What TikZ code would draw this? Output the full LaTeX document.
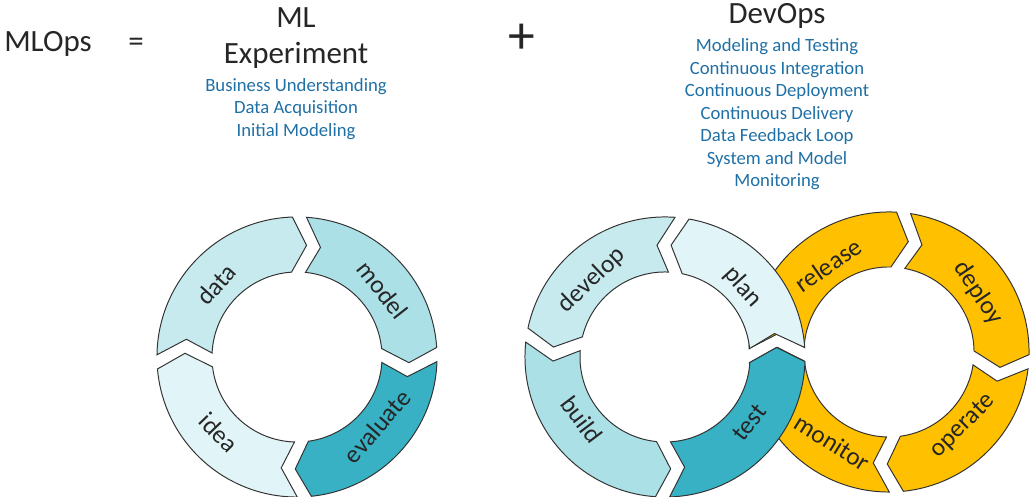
\documentclass[tikz,border=0pt]{standalone}
\usepackage{fontspec}
\setmainfont{Carlito}
\usetikzlibrary{positioning}

\definecolor{dataC}{HTML}{C7EAEF}
\definecolor{modelC}{HTML}{ACE0E7}
\definecolor{evalC}{HTML}{37B1C3}
\definecolor{ideaC}{HTML}{E1F4F7}
\definecolor{opsC}{HTML}{FFC000}
\definecolor{stepblue}{HTML}{1F70A6}
\definecolor{inkgray}{HTML}{262626}

% radii of the rings
\newcommand{\rout}{3.5cm}
\newcommand{\rmid}{2.8cm}
\newcommand{\rin}{2.125cm}
% half gaps (degrees) at outer, middle and inner radius, and tip length
\newcommand{\gapout}{2.9}
\newcommand{\gapmid}{3.6}
\newcommand{\gapin}{4.7}
\newcommand{\tiplen}{7.5}

% one ring piece: start angle, end angle, direction (1 ccw, -1 cw), fill
\newcommand{\ringpart}[4]{%
  \draw[ringline, fill=#4]
    ({#1+(#3)*\gapout}:\rout) arc[start angle={#1+(#3)*\gapout}, end angle={#2-(#3)*\gapout}, radius=\rout]
    -- ({#2-(#3)*\gapmid+(#3)*\tiplen}:\rmid)
    -- ({#2-(#3)*\gapin}:\rin) arc[start angle={#2-(#3)*\gapin}, end angle={#1+(#3)*\gapin}, radius=\rin]
    -- ({#1+(#3)*\gapmid+(#3)*\tiplen}:\rmid) -- cycle;}

\tikzset{
  ringline/.style={draw=black!80, line width=0.7pt},
  lbl/.style={font=\fontsize{18pt}{20pt}\selectfont, text=inkgray},
  head/.style={font=\fontsize{22pt}{25.6pt}\selectfont, text=inkgray, inner sep=0pt, align=center},
  steps/.style={font=\fontsize{13.3pt}{16pt}\selectfont, text=stepblue, inner sep=0pt, align=center}
}

\begin{document}
\begin{tikzpicture}[x=0.025cm, y=0.025cm]
  \useasboundingbox (0,0) rectangle (1030,497);

  % titles
  \node[head, anchor=base] (mlops) at (48,445) {MLOps};
  \node[head, anchor=base] (equals) at (136,445) {=};
  \node[head, anchor=north] (mlexp) at (296,490) {ML\\Experiment};
  \node[steps, below=7pt of mlexp] (mlsteps) {Business Understanding\\Data Acquisition\\Initial Modeling};
  \node[head, font=\fontsize{38pt}{40pt}\selectfont] (plus) at (522,458) {+};
  \node[head, anchor=north] (devops) at (777,494) {DevOps};
  \node[steps, below=7pt of devops] (devsteps) {Modeling and Testing\\Continuous Integration\\Continuous Deployment\\Continuous Delivery\\Data Feedback Loop\\System and Model\\Monitoring};

  % ML experiment cycle
  \begin{scope}[shift={(297,140)}]
    \foreach \a/\b/\col in {182/89/dataC, 89/1/modelC, 1/-87/evalC, -87/-178/ideaC}
      {\ringpart{\a}{\b}{-1}{\col}}
    \node[lbl, rotate=48] (data) at (138:2.72cm) {data};
    \node[lbl, rotate=-52] (model) at (38:2.72cm) {model};
    \node[lbl, rotate=49] (evaluate) at (-41:2.65cm) {evaluate};
    \node[lbl, rotate=-46] (idea) at (-136:2.72cm) {idea};
  \end{scope}

  % ops loop (yellow, drawn first)
  \begin{scope}[shift={(889,145)}]
    \foreach \a/\b in {181.5/84, 84/-4, -4/-87, -87/-178.5}
      {\ringpart{\a}{\b}{-1}{opsC}}
    \node[lbl, rotate=35] (release) at (125:2.65cm) {release};
    \node[lbl, rotate=-56] (deploy) at (33.5:2.67cm) {deploy};
    \node[lbl, rotate=45] (operate) at (-45:2.62cm) {operate};
    \node[lbl, rotate=-32] (monitor) at (-122:2.67cm) {monitor};
  \end{scope}

  % dev loop
  \begin{scope}[shift={(665,140)}]
    \foreach \a/\b/\col in {1/83/ideaC, 83/171/dataC, 171/269/modelC, 269/361/evalC}
      {\ringpart{\a}{\b}{1}{\col}}
    \node[lbl, rotate=43.5] (develop) at (133.5:2.65cm) {develop};
    \node[lbl, rotate=-48] (plan) at (42:2.62cm) {plan};
    \node[lbl, rotate=-53] (build) at (-143:2.6cm) {build};
    \node[lbl, rotate=52] (test) at (-38:2.67cm) {test};
  \end{scope}
\end{tikzpicture}
\end{document}
